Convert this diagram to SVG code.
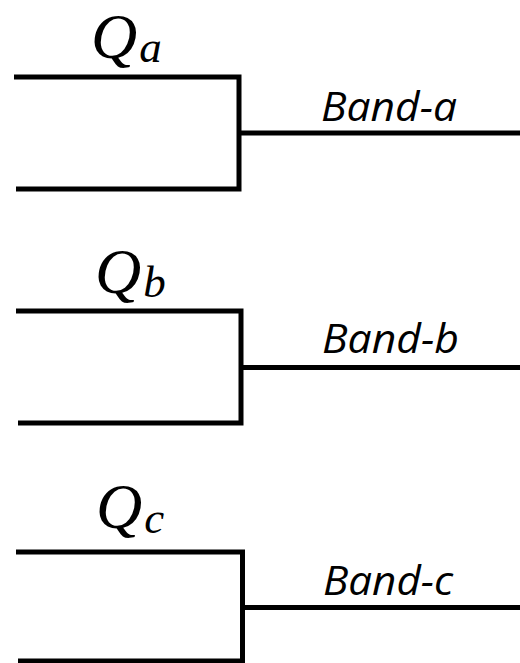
<svg xmlns="http://www.w3.org/2000/svg" width="520" height="663" viewBox="0 0 520 663">
  <style>
    .wire { fill: none; stroke: #000; stroke-width: 5; stroke-linejoin: miter; stroke-linecap: butt; }
    .q { font-family: "Liberation Serif", "DejaVu Serif", serif; font-style: italic; font-size: 64px; fill: #000; }
    .sub { font-size: 45px; }
    .band { font-family: "Open Sans", "Noto Sans", sans-serif; font-style: italic; font-size: 40px; fill: #000; }
  </style>
  <rect width="520" height="663" fill="#fff"/>

  <!-- quantities above each bracket -->
  <g id="node-qa">
    <text class="q" x="91" y="58">Q<tspan class="sub" dx="2" dy="4">a</tspan></text>
  </g>
  <g id="node-qb">
    <text class="q" x="95" y="293">Q<tspan class="sub" dx="2" dy="4">b</tspan></text>
  </g>
  <g id="node-qc">
    <text class="q" x="96" y="528">Q<tspan class="sub" dx="2" dy="5">c</tspan></text>
  </g>

  <!-- band labels over the output lines -->
  <g id="node-band-a">
    <text class="band" x="321" y="121" textLength="136" lengthAdjust="spacingAndGlyphs">Band-a</text>
  </g>
  <g id="node-band-b">
    <text class="band" x="322" y="353" textLength="137" lengthAdjust="spacingAndGlyphs">Band-b</text>
  </g>
  <g id="node-band-c">
    <text class="band" x="323" y="595" textLength="130" lengthAdjust="spacingAndGlyphs">Band-c</text>
  </g>

  <!-- brackets: two inputs merge into one output line -->
  <g id="connectors">
    <polyline class="wire" points="14,77 239,77 239,189 16,189"/>
    <line class="wire" x1="239" y1="133" x2="520" y2="133"/>
    <polyline class="wire" points="16,311 241,311 241,423 18,423"/>
    <line class="wire" x1="241" y1="367.5" x2="520" y2="367.5"/>
    <polyline class="wire" points="16,552 242.5,552 242.5,661 18,661"/>
    <line class="wire" x1="242.5" y1="607.5" x2="520" y2="607.5"/>
  </g>
</svg>
